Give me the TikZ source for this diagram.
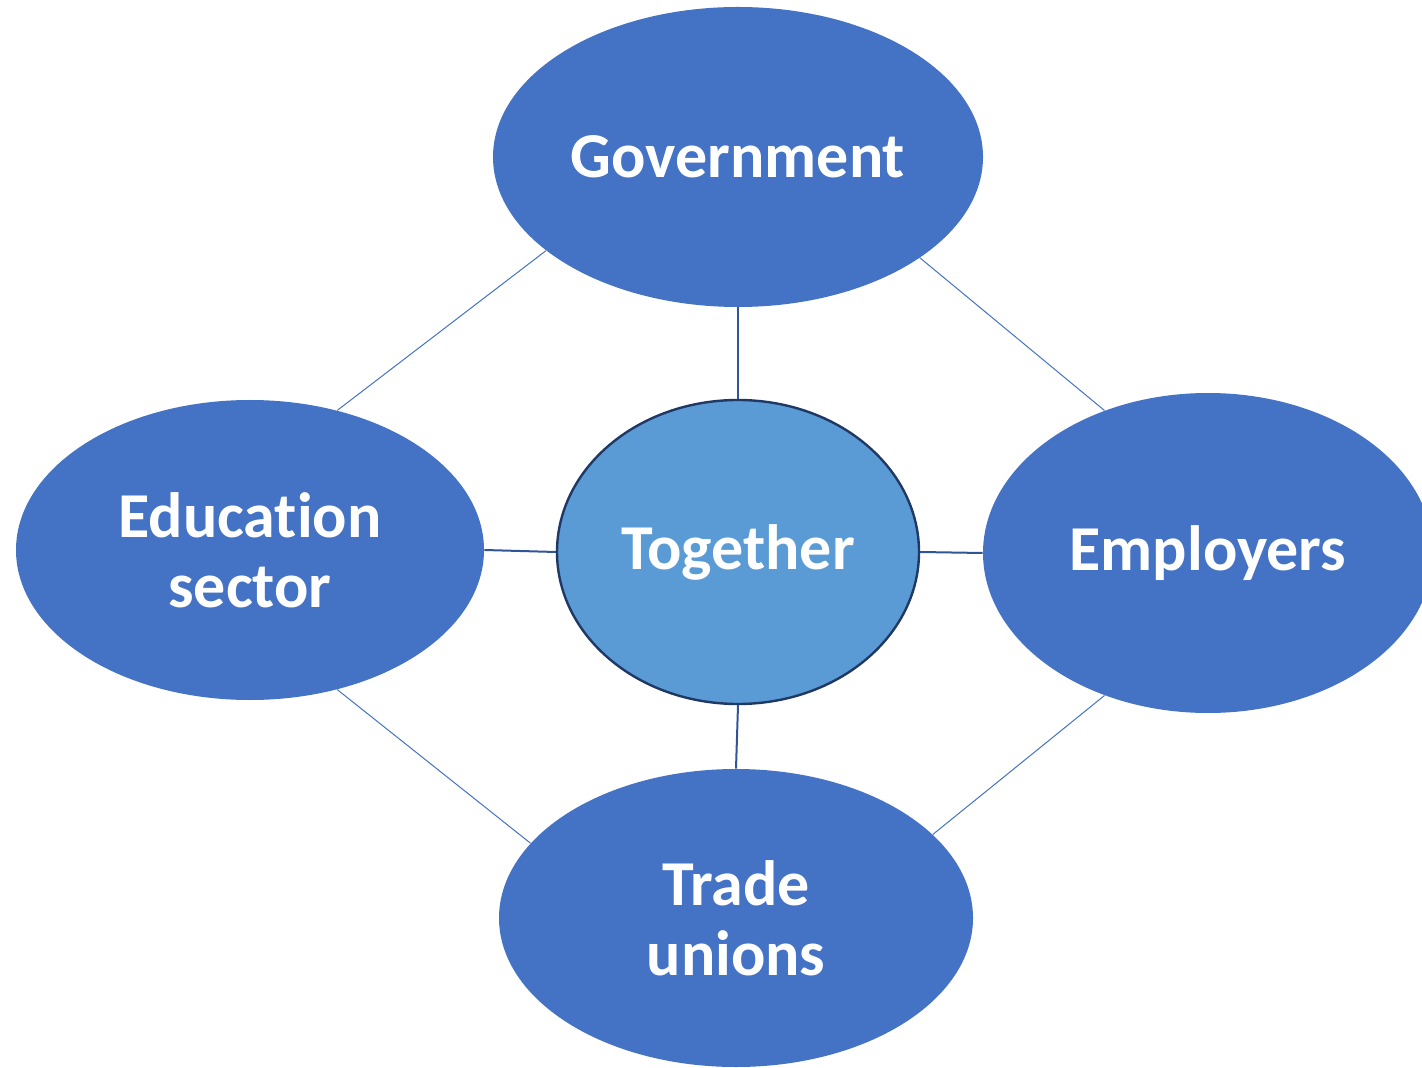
\documentclass[tikz,border=0pt]{standalone}
\usepackage{fontspec}
\setmainfont{Carlito}[Ligatures=NoCommon]
\usepackage{tikz}
\usetikzlibrary{calc,positioning,shapes.geometric}
\usepackage{xcolor}
\definecolor{partyblue}{HTML}{4472C4}
\definecolor{hubblue}{HTML}{5B9BD5}
\definecolor{hubline}{HTML}{203864}
\definecolor{spokeblue}{HTML}{2F5597}

\tikzset{
    party/.style={ellipse, fill=partyblue, draw=none, inner sep=0pt, text=white,
        align=center, font=\fontsize{32}{35}\selectfont\bfseries},
    hub/.style={party, fill=hubblue, draw=hubline, line width=1.2pt},
    ring/.style={draw=partyblue, line width=0.5pt},
    spoke/.style={draw=spokeblue, line width=1pt}
}

\begin{document}
\begin{tikzpicture}[x=0.5pt, y=-0.5pt]
    \useasboundingbox (0,0) rectangle (1422,1068);
    \clip (0,0) rectangle (1422,1068);
    % Draw the partners around the hub
    \node[party, minimum width=245pt, minimum height=150pt] (gov) at (738,157) {Government};
    \node[party, minimum width=234pt, minimum height=150pt] (edu) at (250,550) {Education\\sector};
    \node[party, minimum width=225pt, minimum height=160pt] (emp) at (1208,553) {Employers};
    \node[party, minimum width=237pt, minimum height=149pt] (trade) at (736,918) {Trade\\unions};
    % Draw the hub
    \node[hub, minimum width=181pt, minimum height=152pt] (tog) at (738,552) {Together};
    % Draw the outer ring of edges
    \draw[ring] (gov.206) -- (edu.58);
    \draw[ring] (gov.331) -- (emp.126);
    \draw[ring] (edu.302) -- (trade.160);
    \draw[ring] (emp.234) -- (trade.23);
    % Draw the spokes to the hub
    \foreach \p/\a/\b in {gov/south/north, edu/east/west, emp/west/east, trade/north/south} {
        \draw[spoke] (\p.\a) -- (tog.\b);
    }
\end{tikzpicture}
\end{document}
